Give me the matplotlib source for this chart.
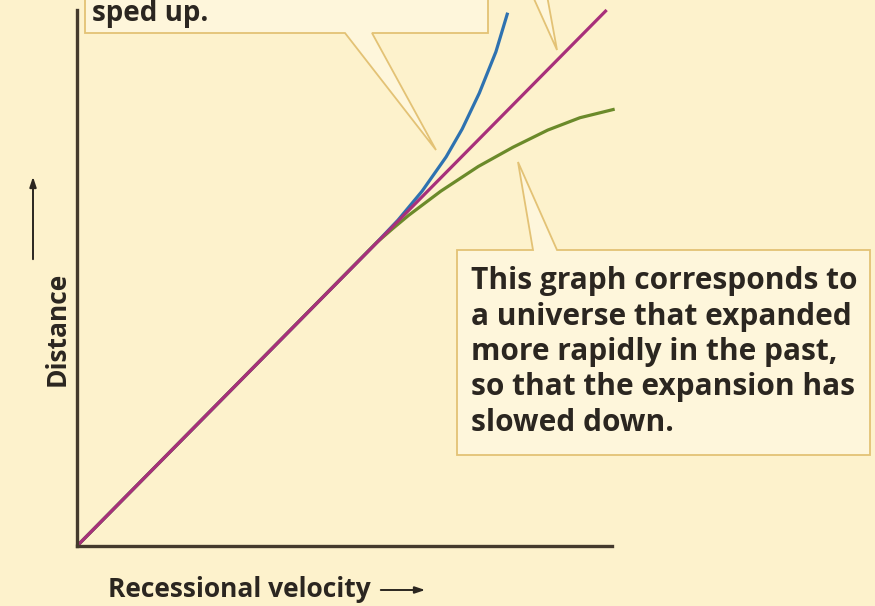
import matplotlib.pyplot as plt
from matplotlib.patches import Polygon

# Hubble-diagram sketches: distance against recessional velocity
constant_v = [0.0, 0.99]
constant_d = [0.0, 1.0]

speedup_v = [0.0, 0.30, 0.56, 0.60, 0.645, 0.69, 0.72, 0.752, 0.783, 0.805]
speedup_d = [0.0, 0.303, 0.566, 0.608, 0.662, 0.726, 0.778, 0.845, 0.922, 0.995]

slowdown_v = [0.0, 0.30, 0.56, 0.59, 0.62, 0.68, 0.75, 0.815, 0.88, 0.94, 1.005]
slowdown_d = [0.0, 0.303, 0.566, 0.592, 0.617, 0.662, 0.708, 0.744, 0.776, 0.799, 0.815]

x_label = 'Recessional velocity'
y_label = 'Distance'
top_note = 'sped up.'
right_note = ['This graph corresponds to',
              'a universe that expanded',
              'more rapidly in the past,',
              'so that the expansion has',
              'slowed down.']

BG = '#FDF2CC'
BOX = '#FEF6DB'
EDGE = '#E3C275'
INK = '#2B2620'
AXIS = '#443A2C'
FONT = 'Open Sans'

W, H = 875, 606
fig = plt.figure(figsize=(W / 100, H / 100), dpi=100, facecolor=BG)

# overlay in pixel units for the callouts and labels
ov = fig.add_axes([0, 0, 1, 1])
ov.set_xlim(0, W)
ov.set_ylim(H, 0)
ov.axis('off')

box_kw = dict(closed=True, facecolor=BOX, edgecolor=EDGE, linewidth=1.3, joinstyle='miter')
ov.add_patch(Polygon([(85, -20), (85, 33), (345, 33), (436, 150), (372, 33),
                      (488, 33), (488, -20)], **box_kw))
ov.add_patch(Polygon([(457, 250), (533, 250), (518, 162), (557, 250),
                      (870, 250), (870, 455), (457, 455)], **box_kw))
ov.add_patch(Polygon([(530, -10), (546, -10), (557, 50)], **box_kw))

txt_kw = dict(family=FONT, fontweight='bold', fontsize=19, color=INK, va='baseline', ha='left')
ov.text(92, 21, top_note, **{**txt_kw, 'fontsize': 20})
for i, line in enumerate(right_note):
    ov.text(471, 289 + 35.5 * i, line, **{**txt_kw, 'fontsize': 21.5})

ov.text(108, 597, x_label, **txt_kw)
ov.text(44, 386, y_label, rotation=90, **{**txt_kw, 'va': 'bottom'})
arrow_kw = dict(arrowstyle='-|>,head_length=0.6,head_width=0.2', color=INK, lw=1.4)
ov.annotate('', xy=(428, 590), xytext=(378, 590), arrowprops=arrow_kw)
ov.annotate('', xy=(33, 174), xytext=(33, 262), arrowprops=arrow_kw)

# data axes
ax = fig.add_axes([77 / W, (H - 546) / H, 535 / W, 536 / H])
ax.patch.set_alpha(0)
ax.set_xlim(0, 1)
ax.set_ylim(0, 1)
for side in ('top', 'right'):
    ax.spines[side].set_visible(False)
for side in ('left', 'bottom'):
    ax.spines[side].set_color(AXIS)
    ax.spines[side].set_linewidth(2.4)
ax.set_xticks([])
ax.set_yticks([])

ax.plot(speedup_v, speedup_d, color='#2E72B0', lw=2.3, clip_on=False, solid_capstyle='butt')
ax.plot(slowdown_v, slowdown_d, color='#6B8A2A', lw=2.3, clip_on=False, solid_capstyle='butt')
ax.plot(constant_v, constant_d, color='#A8307A', lw=2.3, clip_on=False, solid_capstyle='butt')

fig.savefig('out.png', dpi=100, facecolor=BG)
